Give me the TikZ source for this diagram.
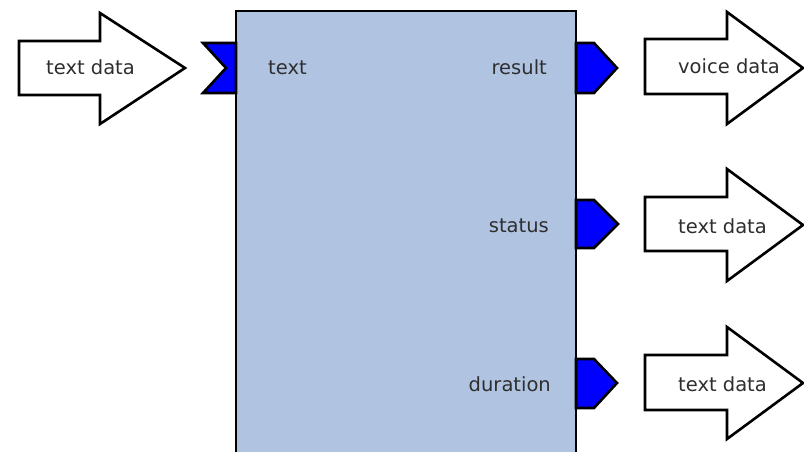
\documentclass[tikz,border=0pt]{standalone}
\usepackage{fontspec}
\setmainfont{DejaVu Sans}
\begin{document}
\begin{tikzpicture}[x=1pt,y=-1pt,
  bigarrow/.style={draw=black,fill=white,line width=2.6pt,line join=miter},
  port/.style={draw=black,fill=blue,line width=2.6pt,line join=miter},
  lbl/.style={inner sep=0pt,font=\fontsize{19.5}{23}\selectfont,text=black!82},
  blockbox/.style={fill={rgb,255:red,176;green,196;blue,226}}]
\useasboundingbox (0,0) rectangle (804,452);
\begin{scope}
\clip (0,0) rectangle (804,452);
% main block
\fill[blockbox] (236,11) rectangle (576,460);
\draw[line width=2.6pt,line join=miter] (236,460) -- (236,11) -- (576,11) -- (576,460);
% input arrow
\draw[bigarrow] (19,41) -- (100,41) -- (100,13) -- (185,68) -- (100,124) -- (100,95) -- (19,95) -- cycle;
% output arrows
\draw[bigarrow] (645,39) -- (727,39) -- (727,12) -- (803,68) -- (727,124) -- (727,94) -- (645,94) -- cycle;
\draw[bigarrow] (645,197) -- (727,197) -- (727,169) -- (803,225) -- (727,281) -- (727,251) -- (645,251) -- cycle;
\draw[bigarrow] (645,355) -- (727,355) -- (727,327) -- (803,383) -- (727,439) -- (727,410) -- (645,410) -- cycle;
% ports
\draw[port] (203,43) -- (236,43) -- (236,93) -- (203,93) -- (226,68) -- cycle;
\draw[port] (576,43) -- (594,43) -- (617,68) -- (594,93) -- (576,93) -- cycle;
\draw[port] (576,200) -- (594,200) -- (618,224) -- (594,248) -- (576,248) -- cycle;
\draw[port] (576,359) -- (594,359) -- (617,383) -- (594,408) -- (576,408) -- cycle;
\end{scope}
% labels
\node[lbl,anchor=base west] (indata) at (46,75) {text data};
\node[lbl,anchor=base west] (intext) at (268,75) {text};
\node[lbl,anchor=base east] (result) at (547,75) {result};
\node[lbl,anchor=base east] (status) at (549,232) {status};
\node[lbl,anchor=base east] (duration) at (551,391) {duration};
\node[lbl,anchor=base west] (out1) at (678,74) {voice data};
\node[lbl,anchor=base west] (out2) at (678,233) {text data};
\node[lbl,anchor=base west] (out3) at (678,391) {text data};
\end{tikzpicture}
\end{document}
